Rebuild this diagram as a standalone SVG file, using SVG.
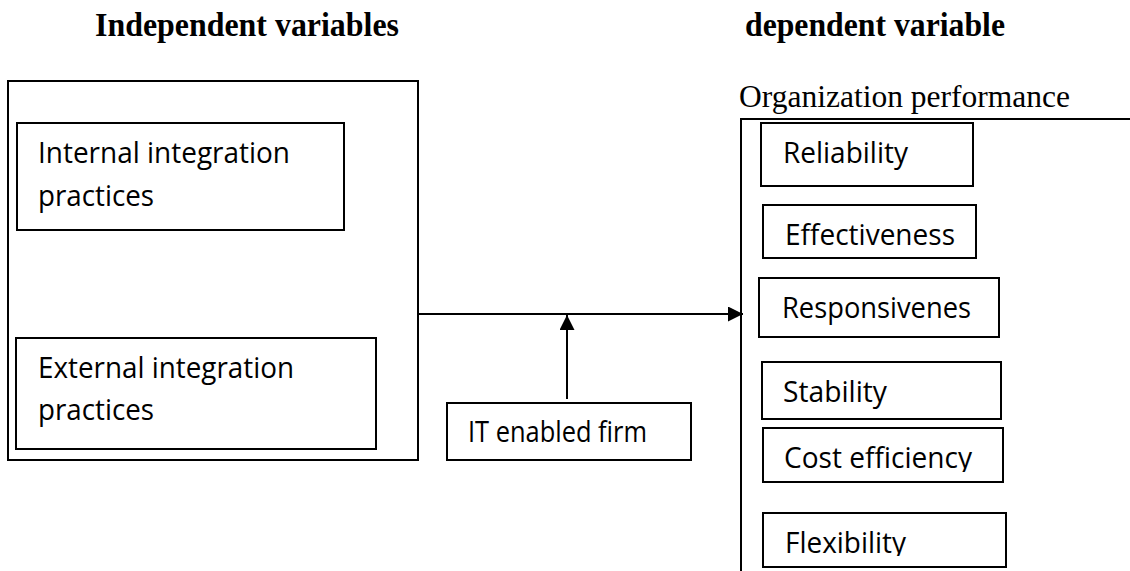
<svg xmlns="http://www.w3.org/2000/svg" width="1130" height="571" viewBox="0 0 1130 571">
<style>
.box{fill:none;stroke:#000;stroke-width:2}
.ln{fill:none;stroke:#000;stroke-width:2}
.t{font-family:"Open Sans","Liberation Sans",sans-serif;font-size:29px;fill:#000}
.h{font-family:"Liberation Serif","Times New Roman",serif;font-size:33px;font-weight:bold;fill:#000}
.s{font-family:"Liberation Serif","Times New Roman",serif;font-size:32px;fill:#000}
</style>
<defs>
<marker id="arr" markerWidth="15" markerHeight="15" refX="15" refY="7.5" orient="auto" markerUnits="userSpaceOnUse">
<path d="M0,0 L15,7.5 L0,15 Z" fill="#000"/>
</marker>
<clipPath id="clipCost"><rect x="760" y="420" width="250" height="52"/></clipPath>
<clipPath id="clipFlex"><rect x="760" y="505" width="250" height="51"/></clipPath>
</defs>

<g id="headings">
<text class="h" x="95" y="36" textLength="304" lengthAdjust="spacingAndGlyphs">Independent variables</text>
<text class="h" x="745" y="36" textLength="260" lengthAdjust="spacingAndGlyphs">dependent variable</text>
</g>

<g id="independent-group">
<rect class="box" x="8" y="81" width="410" height="379"/>
</g>
<g id="internal">
<rect class="box" x="17" y="123" width="327" height="107"/>
<text class="t" x="38" y="163" textLength="252" lengthAdjust="spacingAndGlyphs">Internal integration</text>
<text class="t" x="38" y="206" textLength="116" lengthAdjust="spacingAndGlyphs">practices</text>
</g>
<g id="external">
<rect class="box" x="16" y="338" width="360" height="111"/>
<text class="t" x="38" y="378" textLength="256" lengthAdjust="spacingAndGlyphs">External integration</text>
<text class="t" x="38" y="420" textLength="116" lengthAdjust="spacingAndGlyphs">practices</text>
</g>

<g id="it-enabled">
<rect class="box" x="447" y="403" width="244" height="57"/>
<text class="t" x="468" y="442" textLength="179" lengthAdjust="spacingAndGlyphs">IT enabled firm</text>
</g>

<g id="organization-performance">
<text class="s" x="739" y="107" textLength="331" lengthAdjust="spacingAndGlyphs">Organization performance</text>
<path class="ln" d="M741,571 L741,119 L1130,119"/>
</g>
<g id="reliability">
<rect class="box" x="761" y="123" width="212" height="63"/>
<text class="t" x="783" y="163" textLength="125" lengthAdjust="spacingAndGlyphs">Reliability</text>
</g>
<g id="effectiveness">
<rect class="box" x="763" y="205" width="213" height="53"/>
<text class="t" x="785" y="245" textLength="170" lengthAdjust="spacingAndGlyphs">Effectiveness</text>
</g>
<g id="responsiveness">
<rect class="box" x="759" y="278" width="240" height="59"/>
<text class="t" x="782" y="318" textLength="189" lengthAdjust="spacingAndGlyphs">Responsivenes</text>
</g>
<g id="stability">
<rect class="box" x="762" y="362" width="239" height="57"/>
<text class="t" x="783" y="402" textLength="104" lengthAdjust="spacingAndGlyphs">Stability</text>
</g>
<g id="cost-efficiency">
<rect class="box" x="763" y="428" width="240" height="54"/>
<text class="t" x="784" y="468" textLength="188" lengthAdjust="spacingAndGlyphs" clip-path="url(#clipCost)">Cost efficiency</text>
</g>
<g id="flexibility">
<rect class="box" x="763" y="513" width="243" height="54"/>
<text class="t" x="785" y="553" textLength="121" lengthAdjust="spacingAndGlyphs" clip-path="url(#clipFlex)">Flexibility</text>
</g>

<g id="connectors">
<line class="ln" x1="418" y1="314" x2="743" y2="314" marker-end="url(#arr)"/>
<line class="ln" x1="567" y1="399" x2="567" y2="315" marker-end="url(#arr)"/>
</g>
</svg>
